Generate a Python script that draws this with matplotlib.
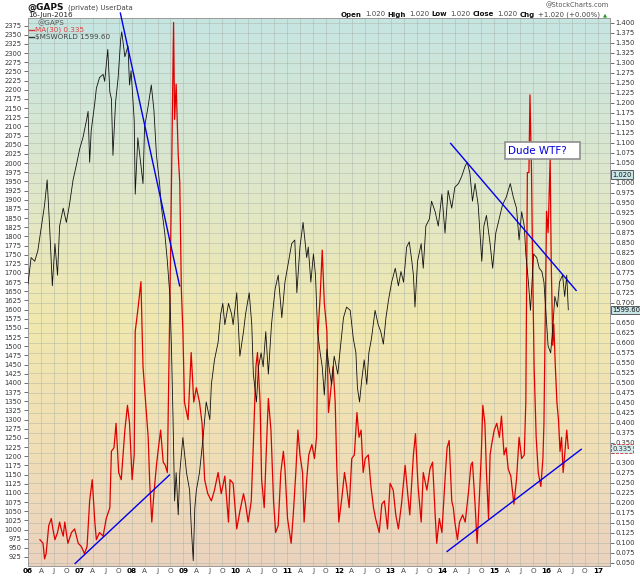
import numpy as np
import matplotlib
matplotlib.use("Agg")
import matplotlib.pyplot as plt
from matplotlib.transforms import blended_transform_factory
from matplotlib.lines import Line2D

# ---------------- data ----------------
msworld_t = [2006.00, 2006.06, 2006.13, 2006.19, 2006.26, 2006.32, 2006.37, 2006.42, 2006.47, 2006.52,
             2006.57, 2006.61, 2006.68, 2006.74, 2006.80, 2006.87, 2006.93, 2007.00, 2007.06, 2007.13,
             2007.16, 2007.19, 2007.22, 2007.29, 2007.32, 2007.38, 2007.45, 2007.48, 2007.54, 2007.58,
             2007.61, 2007.64, 2007.69, 2007.74, 2007.79, 2007.81, 2007.87, 2007.93, 2007.96, 2007.99,
             2008.05, 2008.07, 2008.12, 2008.19, 2008.22, 2008.25, 2008.32, 2008.38, 2008.43, 2008.48,
             2008.54, 2008.57, 2008.64, 2008.69, 2008.74, 2008.77, 2008.80, 2008.83, 2008.86, 2008.90,
             2008.93, 2008.99, 2009.06, 2009.12, 2009.15, 2009.19, 2009.22, 2009.25, 2009.31, 2009.38,
             2009.44, 2009.51, 2009.54, 2009.60, 2009.67, 2009.72, 2009.76,
             2009.80, 2009.87, 2009.93, 2009.96, 2010.03, 2010.09, 2010.16, 2010.20, 2010.27, 2010.32,
             2010.35, 2010.41, 2010.45, 2010.50, 2010.54, 2010.59, 2010.64, 2010.70, 2010.77, 2010.83,
             2010.90, 2010.96, 2011.03, 2011.09, 2011.15, 2011.19, 2011.25, 2011.31, 2011.38, 2011.41,
             2011.46, 2011.51, 2011.55, 2011.59, 2011.64, 2011.68, 2011.72, 2011.77, 2011.81, 2011.86,
             2011.91, 2011.98, 2012.02, 2012.09, 2012.15, 2012.22, 2012.28, 2012.33, 2012.36, 2012.40,
             2012.44, 2012.49, 2012.54, 2012.58, 2012.63, 2012.70, 2012.76, 2012.81, 2012.86, 2012.91,
             2012.96, 2013.02, 2013.09, 2013.15, 2013.20, 2013.25, 2013.31, 2013.36, 2013.41, 2013.44,
             2013.47, 2013.52, 2013.59,
             2013.63, 2013.68, 2013.75, 2013.79, 2013.86, 2013.92, 2013.99, 2014.05, 2014.11, 2014.18,
             2014.24, 2014.31, 2014.37, 2014.44, 2014.48, 2014.53, 2014.58, 2014.63, 2014.69, 2014.76,
             2014.80, 2014.85, 2014.92, 2014.97, 2015.03, 2015.11, 2015.16, 2015.23, 2015.31, 2015.37,
             2015.43, 2015.48, 2015.53, 2015.58, 2015.61, 2015.66, 2015.70, 2015.76, 2015.82, 2015.87,
             2015.92, 2015.96, 2016.00, 2016.04, 2016.09, 2016.13, 2016.17, 2016.22, 2016.26, 2016.32,
             2016.36, 2016.40, 2016.43]
msworld_v = [1670, 1742, 1732, 1761, 1828, 1886, 1954, 1819, 1665, 1780,
             1694, 1828, 1877, 1838, 1886, 1954, 1992, 2040, 2069, 2117,
             2141, 2002, 2088, 2165, 2204, 2233, 2242, 2223, 2310, 2194,
             2175, 2021, 2165, 2233, 2339, 2358, 2290, 2319, 2213, 2252,
             2117, 1915, 2069, 1983, 1944, 2098, 2156, 2213, 2146, 2021,
             1944, 1886, 1809, 1732, 1636, 1492, 1300, 1078, 1155, 1040,
             1155, 1251, 1155, 1107, 1011, 915, 1059, 1107, 1155, 1251,
             1348, 1300, 1396, 1463, 1511, 1588, 1617,
             1559, 1617, 1588, 1559, 1646, 1473, 1540, 1588, 1646, 1559,
             1424, 1348, 1444, 1482, 1444, 1540, 1424, 1559, 1656, 1694,
             1578, 1675, 1732, 1780, 1790, 1646, 1771, 1838, 1742, 1771,
             1675, 1752, 1694, 1540, 1482, 1444, 1367, 1492, 1444, 1396,
             1473, 1424, 1482, 1578, 1607, 1598, 1521, 1482, 1386, 1348,
             1405, 1463, 1396, 1482, 1521, 1598, 1559, 1540, 1506, 1578,
             1627, 1675, 1713, 1665, 1704, 1675, 1771, 1785, 1732, 1694,
             1607, 1732, 1780,
             1713, 1828, 1848, 1896, 1867, 1828, 1915, 1809, 1925, 1877,
             1934, 1944, 1963, 1992, 2002, 1973, 1896, 1944, 1886, 1732,
             1828, 1857, 1780, 1713, 1809, 1857, 1886, 1906, 1944, 1906,
             1877, 1790, 1867, 1828, 1752, 1675, 1598, 1752, 1742, 1713,
             1704, 1675, 1588, 1501, 1482, 1550, 1636, 1607, 1675, 1694,
             1636, 1694, 1599.60]

gaps_ma_t = [2006.23, 2006.29, 2006.32, 2006.35, 2006.40, 2006.45, 2006.48, 2006.52, 2006.57, 2006.61,
             2006.64, 2006.68, 2006.71, 2006.77, 2006.84, 2006.90, 2006.97, 2007.03, 2007.09, 2007.14,
             2007.19, 2007.24, 2007.29, 2007.32, 2007.38, 2007.45, 2007.51, 2007.58, 2007.61, 2007.66,
             2007.70, 2007.75, 2007.80, 2007.87, 2007.92, 2007.96, 2008.01, 2008.05, 2008.07, 2008.12,
             2008.18, 2008.22, 2008.26, 2008.32, 2008.35, 2008.39, 2008.43, 2008.48, 2008.51, 2008.56,
             2008.61, 2008.65, 2008.69, 2008.72, 2008.75, 2008.78, 2008.81, 2008.83, 2008.86, 2008.90,
             2008.93, 2008.96, 2008.99, 2009.02, 2009.09, 2009.15, 2009.20, 2009.25, 2009.31, 2009.36,
             2009.41, 2009.47, 2009.54, 2009.60, 2009.67, 2009.73, 2009.80,
             2009.87, 2009.90, 2009.96, 2010.03, 2010.09, 2010.16, 2010.20, 2010.25, 2010.31, 2010.35,
             2010.40, 2010.43, 2010.48, 2010.51, 2010.56, 2010.61, 2010.64, 2010.69, 2010.74, 2010.78,
             2010.83, 2010.88, 2010.93, 2010.96, 2011.01, 2011.08, 2011.12, 2011.17, 2011.21, 2011.25,
             2011.30, 2011.33, 2011.38, 2011.42, 2011.48, 2011.53, 2011.57, 2011.60, 2011.64, 2011.68,
             2011.72, 2011.77, 2011.80, 2011.85, 2011.89, 2011.93, 2011.96, 2012.00, 2012.06, 2012.11,
             2012.15, 2012.20, 2012.25, 2012.30, 2012.35, 2012.39, 2012.43, 2012.47, 2012.51, 2012.57,
             2012.62, 2012.67, 2012.71, 2012.78, 2012.83, 2012.88, 2012.94, 2012.99, 2013.05, 2013.10,
             2013.15, 2013.21, 2013.28, 2013.33, 2013.37, 2013.44, 2013.48, 2013.53, 2013.59,
             2013.63, 2013.70, 2013.76, 2013.81, 2013.86, 2013.89, 2013.94, 2013.99, 2014.05, 2014.09,
             2014.13, 2014.18, 2014.21, 2014.24, 2014.29, 2014.33, 2014.39, 2014.44, 2014.50, 2014.55,
             2014.58, 2014.63, 2014.67, 2014.71, 2014.75, 2014.78, 2014.82, 2014.85, 2014.89, 2014.92,
             2014.95, 2015.00, 2015.05, 2015.10, 2015.14, 2015.19, 2015.23, 2015.27, 2015.32, 2015.38,
             2015.43, 2015.48, 2015.53, 2015.58, 2015.61, 2015.64, 2015.67, 2015.69, 2015.72, 2015.74,
             2015.77, 2015.81, 2015.85, 2015.90, 2015.94, 2015.96, 2015.99, 2016.01, 2016.04, 2016.08,
             2016.10, 2016.13, 2016.15, 2016.18, 2016.21, 2016.24, 2016.27, 2016.30, 2016.33, 2016.36,
             2016.40, 2016.43]
gaps_ma_v = [0.107, 0.098, 0.059, 0.072, 0.142, 0.160, 0.134, 0.107, 0.125, 0.151,
             0.134, 0.116, 0.151, 0.098, 0.125, 0.134, 0.098, 0.090, 0.072, 0.090,
             0.204, 0.257, 0.151, 0.107, 0.125, 0.116, 0.160, 0.187, 0.328, 0.337,
             0.398, 0.275, 0.257, 0.381, 0.443, 0.398, 0.257, 0.319, 0.628, 0.681,
             0.752, 0.540, 0.469, 0.363, 0.248, 0.151, 0.222, 0.293, 0.328, 0.381,
             0.301, 0.293, 0.275, 0.540, 0.804, 1.113, 1.400, 1.158, 1.246, 1.069,
             0.999, 0.734, 0.628, 0.451, 0.407, 0.575, 0.451, 0.487, 0.451, 0.398,
             0.257, 0.222, 0.204, 0.231, 0.275, 0.222, 0.266,
             0.151, 0.257, 0.248, 0.134, 0.178, 0.222, 0.196, 0.151, 0.204, 0.345,
             0.540, 0.575, 0.451, 0.257, 0.187, 0.363, 0.460, 0.381, 0.204, 0.125,
             0.142, 0.275, 0.328, 0.284, 0.160, 0.098, 0.169, 0.275, 0.381, 0.319,
             0.275, 0.151, 0.257, 0.319, 0.345, 0.310, 0.363, 0.628, 0.716, 0.831,
             0.699, 0.628, 0.425, 0.487, 0.540, 0.451, 0.293, 0.151, 0.213, 0.275,
             0.240, 0.187, 0.310, 0.319, 0.425, 0.363, 0.381, 0.275, 0.310, 0.319,
             0.240, 0.187, 0.160, 0.125, 0.196, 0.204, 0.134, 0.248, 0.231, 0.169,
             0.134, 0.196, 0.293, 0.222, 0.169, 0.319, 0.372, 0.240, 0.151,
             0.275, 0.231, 0.284, 0.301, 0.169, 0.098, 0.160, 0.125, 0.257, 0.337,
             0.355, 0.204, 0.187, 0.151, 0.107, 0.151, 0.169, 0.151, 0.222, 0.293,
             0.301, 0.196, 0.098, 0.204, 0.319, 0.443, 0.398, 0.275, 0.160, 0.319,
             0.345, 0.381, 0.398, 0.363, 0.416, 0.319, 0.337, 0.284, 0.266, 0.196,
             0.257, 0.363, 0.310, 0.319, 0.451, 1.025, 1.025, 1.219, 1.025, 0.804,
             0.540, 0.363, 0.275, 0.240, 0.310, 0.398, 0.716, 0.928, 0.875, 1.060,
             0.804, 0.593, 0.646, 0.540, 0.451, 0.407, 0.328, 0.363, 0.275, 0.319,
             0.381, 0.335]

# hand-drawn trend lines (start, end) in date / $MSWORLD units
trend_t = [(2007.78, 2008.93), (2006.90, 2008.74), (2014.15, 2016.59), (2014.08, 2016.69)]
trend_v = [(2411, 1663), (906, 1150), (2055, 1651), (939, 1220)]

left_ticks = list(range(925, 2376, 25))
right_ticks = [round(0.05 + 0.025 * i, 3) for i in range(55)]
hidden_right_labels = [1.025, 0.675, 0.325]   # covered by the last-value boxes
years = list(range(2006, 2018))
quarter_labels = ["", "A", "J", "O"]

last_gaps = 1.020
last_ma = 0.335
last_msworld = 1599.60
note_text = "Dude WTF?"
note_t, note_v = 2015.27, 2034

# ---------------- figure ----------------
W, H = 640, 576
fig = plt.figure(figsize=(W / 100, H / 100), dpi=100)
fig.patch.set_facecolor("white")
renderer = fig.canvas.get_renderer()


def fx(px):
    return px / W


def fy(py):
    return 1 - py / H


L, R, B, T = 28, 610, 565.5, 18
ax_r = fig.add_axes([fx(L), fy(B), fx(R) - fx(L), fy(T) - fy(B)])
ax_l = ax_r.twinx()
ax_l.yaxis.tick_left()
ax_r.yaxis.tick_right()
ax_l.patch.set_visible(False)

# gradient background
stops = np.array([0.0, 0.3, 0.55, 0.8, 1.0])
cols = np.array([(198, 229, 226), (222, 231, 203), (241, 232, 174), (240, 222, 182), (235, 210, 190)]) / 255.0
g = np.linspace(0, 1, 300)
img = np.stack([np.interp(g, stops, cols[:, k]) for k in range(3)], axis=1)[:, None, :]
ax_r.imshow(img, extent=[0, 1, 0, 1], transform=ax_r.transAxes, aspect="auto", zorder=0,
            interpolation="bilinear")

xmin, xmax = 2006.0, 2017.235
ax_r.set_xlim(xmin, xmax)
ax_r.set_ylim(0.0425, 1.4113)
ax_l.set_ylim(901.8, 2395.8)

# x ticks (quarters)
xt, xl = [], []
for y in years:
    for q in range(4):
        p = y + 0.25 * q
        if xmin <= p <= xmax:
            xt.append(p)
            xl.append(f"{y % 100:02d}" if q == 0 else quarter_labels[q])
ax_r.set_xticks(xt)
ax_r.set_xticklabels(xl)
for lab in ax_r.get_xticklabels():
    if lab.get_text().isdigit():
        lab.set_fontweight("bold")
        lab.set_color("black")
    else:
        lab.set_color("#444")
ax_r.tick_params(axis="x", length=0, pad=1.5, labelsize=5.2)

ax_r.set_yticks(right_ticks)
ax_r.set_yticklabels(["" if any(abs(v - h) < 1e-6 for h in hidden_right_labels) else f"{v:.3f}"
                      for v in right_ticks])
ax_r.tick_params(axis="y", right=True, left=False, labelright=True, labelleft=False,
                 length=3, width=0.5, pad=1, labelsize=4.9, colors="#333")
ax_l.set_yticks(left_ticks)
ax_l.set_yticklabels([str(v) for v in left_ticks])
ax_l.tick_params(axis="y", left=True, right=False, labelleft=True, labelright=False,
                 length=3, width=0.5, pad=1.5, labelsize=4.9, colors="#333")
ax_l.set_xlim(xmin, xmax)

ax_r.set_axisbelow(True)
ax_r.grid(True, color="#a9b2a8", lw=0.6, alpha=0.55)

for a in (ax_r, ax_l):
    for s in a.spines.values():
        s.set_color("#9a9a9a")
        s.set_linewidth(0.6)

# series
ax_r.plot(gaps_ma_t, gaps_ma_v, color="#e00000", lw=0.9, zorder=3)
ax_l.plot(msworld_t, msworld_v, color="#111111", lw=0.6, zorder=3)

# trend lines
for i, (tt, vv) in enumerate(zip(trend_t, trend_v)):
    ax_l.plot(tt, vv, color="#0000ee", lw=1.0, zorder=5, clip_on=(i != 0), solid_capstyle="butt")

# annotation
ax_l.text(note_t, note_v, note_text + "   ", ha="left", va="center", fontsize=7.5, color="#0000dd",
          zorder=6, bbox=dict(boxstyle="square,pad=0.35", fc="white", ec="#8f8f8f", lw=1.2))

# last-value markers
tr_r = blended_transform_factory(ax_r.transAxes, ax_r.transData)
tr_l = blended_transform_factory(ax_l.transAxes, ax_l.transData)
box_fs = 4.9
ax_r.text(1.004, last_gaps, f"{last_gaps:.3f}", transform=tr_r, ha="left", va="center", fontsize=box_fs,
          color="#111", zorder=10, clip_on=False,
          bbox=dict(boxstyle="square,pad=0.15", fc="#c8e6e8", ec="#444", lw=0.6))
ax_l.text(1.004, last_msworld, f"{last_msworld:.2f}", transform=tr_l, ha="left", va="center",
          fontsize=box_fs, color="#111", zorder=10, clip_on=False,
          bbox=dict(boxstyle="square,pad=0.15", fc="#c8e6e8", ec="#444", lw=0.6))
ax_r.text(1.004, last_ma, f"{last_ma:.3f}", transform=tr_r, ha="left", va="center", fontsize=box_fs,
          color="#333", zorder=10, clip_on=False,
          bbox=dict(boxstyle="square,pad=0.15", fc="#d6ecee", ec="#d03030", lw=0.6, ls="--"))

# legend in the plot
fig.text(fx(37), fy(23), "@GAPS", fontsize=5.2, color="#555", va="center", ha="left")
fig.add_artist(Line2D([fx(29), fx(34)], [fy(29.5), fy(29.5)], color="#e03030", lw=1.0))
fig.text(fx(35), fy(29.5), f"MA(30) {last_ma:.3f}", fontsize=5.2, color="#e04040", va="center", ha="left")
fig.add_artist(Line2D([fx(29), fx(34)], [fy(36.5), fy(36.5)], color="#333", lw=1.0))
fig.text(fx(35), fy(36.5), r"\$MSWORLD " + f"{last_msworld:.2f}", fontsize=5.2, color="#444",
         va="center", ha="left")

# header
h1 = fig.text(fx(27), fy(7.5), "@GAPS", fontsize=6.5, fontweight="bold", color="#111",
              va="center", ha="left")
bb = h1.get_window_extent(renderer)
fig.text(fx(27 + bb.width + 4), fy(7.5), "(private) UserData", fontsize=5, color="#444",
         va="center", ha="left")
fig.text(fx(28), fy(14.5), "16-Jun-2016", fontsize=5.2, color="#222", va="center", ha="left")
fig.text(fx(609), fy(5), "@StockCharts.com", fontsize=4.8, color="#555", va="center", ha="right")

runs = [("Open", "bold", "#111"), ("1.020", "normal", "#444"),
        ("High", "bold", "#111"), ("1.020", "normal", "#444"),
        ("Low", "bold", "#111"), ("1.020", "normal", "#444"),
        ("Close", "bold", "#111"), ("1.020", "normal", "#444"),
        ("Chg", "bold", "#111"), ("+1.020 (+0.00%)", "normal", "#444"),
        ("\u25b2", "normal", "#1a9a1a")]
xr = 607
for txt, wt, col in reversed(runs):
    fs = 3.8 if txt == "\u25b2" else 5.0
    t = fig.text(fx(xr), fy(14.5), txt, fontsize=fs, fontweight=wt, color=col, ha="right", va="center")
    bb = t.get_window_extent(renderer)
    xr -= bb.width + (2.2 if wt == "bold" else 3.2)

fig.savefig("out.png", dpi=100, facecolor="white")
